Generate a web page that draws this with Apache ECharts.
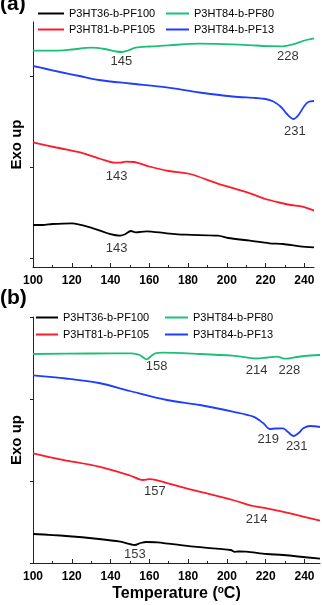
<!DOCTYPE html>
<html>
<head>
<meta charset="utf-8">
<script src="https://cdn.jsdelivr.net/npm/echarts@6/dist/echarts.min.js"></script>
<style>html,body{margin:0;padding:0;background:#fff;}#c{width:322px;height:605px;}</style>
</head>
<body>
<div id="c"></div>
<script>
// Series names
const names = ['P3HT36-b-PF100','P3HT84-b-PF80','P3HT81-b-PF105','P3HT84-b-PF13'];
// X axis ticks (°C)
const xMajor = [100,120,140,160,180,200,220,240];
const xMinor = [110,130,150,170,190,210,230];
// Panel (a) data [T, heat flow a.u.]
const aBlack = [[100,42],[105,42],[110,43],[120,43.7],[131,38.7],[138,34],[142,32],[145,31.3],[147.5,32.7],[150.5,36],[153,34.7],[158.5,35.7],[169,33.7],[179,32.3],[195.5,31.3],[200.7,29],[212,26.3],[222,23.7],[229,23],[237.7,20.7],[245,19.7]];
const aRed = [[100,124.7],[112,119.5],[126,113.7],[135,108],[142,104.3],[145,104.3],[148,105.3],[152,105],[160,100.5],[170,96],[181,93],[195,83.7],[212,73.7],[220,68],[227,64.5],[233,62],[239,60.3],[245,56.3]];
const aGreen = [[100,216.3],[110,216.3],[120,217.5],[130,219.3],[137,218],[143,215.5],[146,215],[149,216.5],[153,219.3],[160,220.5],[170,221.7],[186,223.3],[203,222.7],[215,221.5],[222,220.8],[229,220.7],[234,222.7],[241,227],[245,228.7]];
const aBlue = [[100,201],[107,198],[114,195],[124,191],[134,187],[150,183.5],[169,179.7],[186,174.5],[203,170.5],[215,169],[220,168],[224,165.5],[228,160],[231,153],[234.5,148],[237,152],[240,161],[242,165],[245,166]];
// Panel (b) data
const bBlack = [[100,29],[117,27],[134,24],[145,21.3],[152.5,18],[155.5,20],[158.5,21],[164,20.7],[183,16.3],[202,13],[204,11.2],[206,11.5],[210,11.3],[220.5,9],[229,8],[248,4.3]];
const bRed = [[100,109.7],[114,103.7],[134,96.3],[150,87.5],[156.7,83],[160,83.8],[163,83.2],[179,74.7],[190,69.5],[203,63],[213.6,57],[220.5,54.7],[232.6,49.7],[248,42.3]];
const bGreen = [[100,209],[130,209.5],[151,209.7],[155,208],[158.5,203.7],[161,207],[163,209.7],[167,210.3],[186,209],[203,207.3],[210,205.7],[215,204.5],[221,205.5],[226,206.3],[229.5,204.3],[232,204.5],[236,206],[240,207],[248,208]];
const bBlue = [[100,187.7],[117,184.5],[134,180],[150,172],[169,163],[186,158],[203,151.3],[213.6,146.3],[218.8,139.7],[222,134],[225,134.5],[229,134.7],[231.5,131],[234.3,127],[237,130],[239.4,134.7],[243,137],[248,136]];
// Peak annotations [T, value, text]
const aNotes = [[145.6,205.3,'145'],[231.5,210.3,'228'],[235.1,135.3,'231'],[143.2,91,'143'],[143.2,19,'143']];
const bNotes = [[163.7,196.3,'158'],[215.3,193,'214'],[232.2,193,'228'],[221.3,123.7,'219'],[236,117,'231'],[162.8,71.3,'157'],[215.3,43.7,'214'],[152.5,8.7,'153']];
// Y ticks
const aYTicks = [9,100,191];
const bYTicks = [0,82,164,246];

const FONT = 'Liberation Sans, Arial, sans-serif';
const colors = {'P3HT36-b-PF100':'#000000','P3HT84-b-PF80':'#1dbf76','P3HT81-b-PF105':'#ff1a2a','P3HT84-b-PF13':'#1f3dff'};

function xAxes(grid, max, withName){
  const main = {
    type:'value', gridIndex:grid, min:100, max:max,
    axisLine:{show:true, onZero:false, lineStyle:{color:'#222', width:1}},
    axisTick:{show:true, inside:true, length:4, customValues:xMajor, lineStyle:{color:'#222'}},
    axisLabel:{show:true, customValues:xMajor, margin:8, color:'#000', fontWeight:'bold', fontSize:12, fontFamily:FONT},
    splitLine:{show:false}
  };
  if (withName){
    main.name = 'Temperature ({sup|o}C)';
    main.nameLocation = 'middle';
    main.nameGap = 22;
    main.nameTextStyle = {color:'#000', fontWeight:'bold', fontSize:16, fontFamily:FONT,
      rich:{sup:{fontSize:10, fontWeight:'bold', fontFamily:FONT, color:'#000', padding:[0,0,8,0]}}};
  }
  const minor = {
    type:'value', gridIndex:grid, min:100, max:max, position:'bottom',
    axisLine:{show:false},
    axisTick:{show:true, inside:true, length:2, customValues:xMinor, lineStyle:{color:'#222'}},
    axisLabel:{show:false}, splitLine:{show:false}
  };
  return [main, minor];
}
function yAxis(grid, max, ticks){
  return {
    type:'value', gridIndex:grid, min:0, max:max,
    name:'Exo up', nameLocation:'middle', nameRotate:90, nameGap:9,
    nameTextStyle:{color:'#000', fontWeight:'bold', fontSize:15, fontFamily:FONT},
    axisLine:{show:true, lineStyle:{color:'#222', width:1}},
    axisTick:{show:true, inside:false, length:3, customValues:ticks, lineStyle:{color:'#222'}},
    axisLabel:{show:false}, splitLine:{show:false}
  };
}
function line(name, data, xi, yi){
  return {type:'line', name:name, data:data, xAxisIndex:xi, yAxisIndex:yi,
    showSymbol:false, symbol:'none', smooth:0.3, color:colors[name],
    lineStyle:{width:1.8, color:colors[name]}, silent:true, z:3};
}
function notes(data, xi, yi){
  return {type:'scatter', name:'notes'+xi, data:data, xAxisIndex:xi, yAxisIndex:yi,
    symbolSize:0, silent:true, z:5,
    label:{show:true, position:'inside', formatter:p=>p.data[2], color:'#000', fontSize:13, fontFamily:FONT}};
}
function legend(name, left, top, w){
  return {data:[name], left:left, top:top, orient:'horizontal', padding:0, itemGap:0,
    icon:'rect', itemWidth:w, itemHeight:2, selectedMode:false,
    textStyle:{color:'#000', fontSize:11, fontFamily:FONT}};
}

const xa = xAxes(0, 245, false);
const xb = xAxes(1, 248, true);

const option = {
  animation:false,
  title:[
    {text:'(a)', left:0, top:-6, padding:0, textStyle:{fontSize:21, fontWeight:'bold', fontFamily:FONT, color:'#000'}},
    {text:'(b)', left:0, top:288, padding:0, textStyle:{fontSize:21, fontWeight:'bold', fontFamily:FONT, color:'#000'}}
  ],
  legend:[
    legend(names[0], 38, 8, 26), legend(names[1], 166, 8, 23),
    legend(names[2], 38, 24, 26), legend(names[3], 166, 24, 23),
    legend(names[0], 36, 312, 22), legend(names[1], 165, 312, 23),
    legend(names[2], 36, 329, 22), legend(names[3], 165, 329, 23)
  ],
  grid:[
    {left:33, top:22, right:8, bottom:338},
    {left:33, top:317, right:2, bottom:42}
  ],
  xAxis:[xa[0], xa[1], xb[0], xb[1]],
  yAxis:[yAxis(0, 245, aYTicks), yAxis(1, 246, bYTicks)],
  series:[
    line(names[0], aBlack, 0, 0), line(names[2], aRed, 0, 0), line(names[1], aGreen, 0, 0), line(names[3], aBlue, 0, 0),
    line(names[0], bBlack, 2, 1), line(names[2], bRed, 2, 1), line(names[1], bGreen, 2, 1), line(names[3], bBlue, 2, 1),
    notes(aNotes, 0, 0), notes(bNotes, 2, 1)
  ]
};
const chart = echarts.init(document.getElementById('c'), null, {renderer:'canvas'});
chart.setOption(option);
</script>
</body>
</html>
